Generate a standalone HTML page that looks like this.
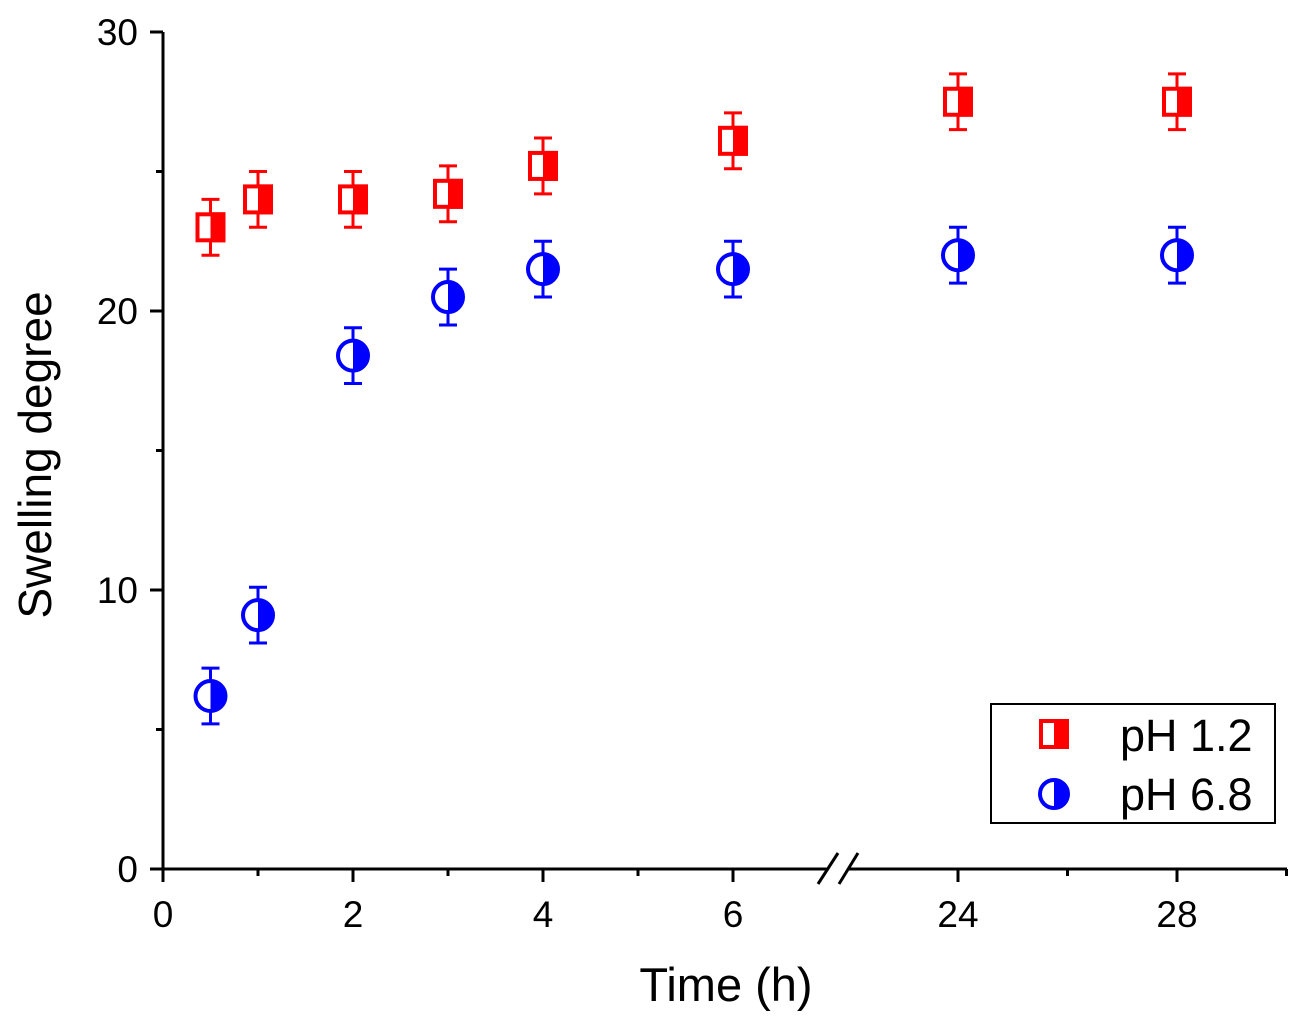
<!DOCTYPE html>
<html><head><meta charset="utf-8"><style>
body{margin:0;background:#fff}
svg{display:block}
text{font-family:"Liberation Sans",Arial,sans-serif;fill:#000}
</style></head><body>
<svg id="chart" width="1304" height="1021" viewBox="0 0 1304 1021" xmlns="http://www.w3.org/2000/svg">
<g id="axes"></g>
<g id="marks"></g>
<text x="726" y="1001" font-size="47" text-anchor="middle">Time (h)</text>
<text transform="translate(51,455) rotate(-90)" font-size="46" text-anchor="middle">Swelling degree</text>
<g>
<rect x="991" y="704" width="284" height="119" fill="#fff" stroke="#000" stroke-width="2"/>
<g>
<rect x="1041" y="721" width="26" height="26" fill="#fff" stroke="#f00" stroke-width="4"/>
<rect x="1054" y="721" width="13" height="26" fill="#f00"/>
<text x="1120" y="751" font-size="45">pH 1.2</text></g>
<g>
<circle cx="1054" cy="794" r="14" fill="#fff" stroke="#00f" stroke-width="4"/>
<path d="M1054 780 A14 14 0 0 1 1054 808 Z" fill="#00f"/>
<text x="1120" y="810" font-size="45">pH 6.8</text></g>
</g>
</svg>
<script>
const times=[0.5,1,2,3,4,6,24,28];
const ph12=[23,24,24,24.2,25.2,26.1,27.5,27.5];
const ph68=[6.2,9.1,18.4,20.5,21.5,21.5,22,22];
const errs12=[1,1,1,1,1,1,1,1];
const errs68=[1,1,1,1,1,1,1,1];
const yTicks=[0,10,20,30];
const xTicksA=[0,2,4,6];
const xTicksB=[24,28];
const NS="http://www.w3.org/2000/svg";
function X(t){return t<=7?163+t*95:958+(t-24)*54.75;}
function Y(v){return 869-v*27.9;}
function mk(tag,attrs,parent){const e=document.createElementNS(NS,tag);for(const k in attrs)e.setAttribute(k,attrs[k]);parent.appendChild(e);return e;}
const ax=document.getElementById('axes'),mg=document.getElementById('marks');
mk('line',{x1:163,y1:32,x2:163,y2:870,stroke:'#000','stroke-width':3},ax);
mk('line',{x1:162,y1:869,x2:828,y2:869,stroke:'#000','stroke-width':3},ax);
mk('line',{x1:849,y1:869,x2:1287,y2:869,stroke:'#000','stroke-width':3},ax);
mk('line',{x1:818,y1:884,x2:838,y2:853,stroke:'#000','stroke-width':3},ax);
mk('line',{x1:839,y1:884,x2:858,y2:853,stroke:'#000','stroke-width':3},ax);
yTicks.forEach(v=>{
 mk('line',{x1:150,y1:Y(v),x2:163,y2:Y(v),stroke:'#000','stroke-width':3},ax);
 const t=mk('text',{x:138,y:Y(v)+13,'font-size':37,'text-anchor':'end'},ax);t.textContent=v;
 
 
});
[5,15,25].forEach(v=>mk('line',{x1:156,y1:Y(v),x2:163,y2:Y(v),stroke:'#000','stroke-width':3},ax));
xTicksA.concat(xTicksB).forEach(v=>{
 mk('line',{x1:X(v),y1:869,x2:X(v),y2:882,stroke:'#000','stroke-width':3},ax);
 const t=mk('text',{x:X(v),y:927,'font-size':37,'text-anchor':'middle'},ax);t.textContent=v;
 
 
});
[1,3,5,26,30].forEach(v=>mk('line',{x1:X(v),y1:869,x2:X(v),y2:876,stroke:'#000','stroke-width':3},ax));
function errbar(x,v,e,col){
 mk('line',{x1:x,y1:Y(v+e),x2:x,y2:Y(v-e),stroke:col,'stroke-width':3},mg);
 mk('line',{x1:x-9,y1:Y(v+e),x2:x+9,y2:Y(v+e),stroke:col,'stroke-width':3},mg);
 mk('line',{x1:x-9,y1:Y(v-e),x2:x+9,y2:Y(v-e),stroke:col,'stroke-width':3},mg);
}
times.forEach((t,i)=>{
 const x=X(t);
 errbar(x,ph12[i],errs12[i],'#f00');
 const y=Y(ph12[i]);
 const g=mk('g',{},mg);
 
 
 mk('rect',{x:x-13,y:y-13,width:26,height:26,fill:'#fff',stroke:'#f00','stroke-width':4},g);
 mk('rect',{x:x,y:y-15,width:15,height:30,fill:'#f00'},g);
});
times.forEach((t,i)=>{
 const x=X(t);
 errbar(x,ph68[i],errs68[i],'#00f');
 const y=Y(ph68[i]);
 const g=mk('g',{},mg);
 
 
 mk('circle',{cx:x,cy:y,r:15,fill:'#fff',stroke:'#00f','stroke-width':4},g);
 mk('path',{d:`M${x} ${y-16} A16 16 0 0 1 ${x} ${y+16} Z`,fill:'#00f'},g);
});
</script>
</body></html>
